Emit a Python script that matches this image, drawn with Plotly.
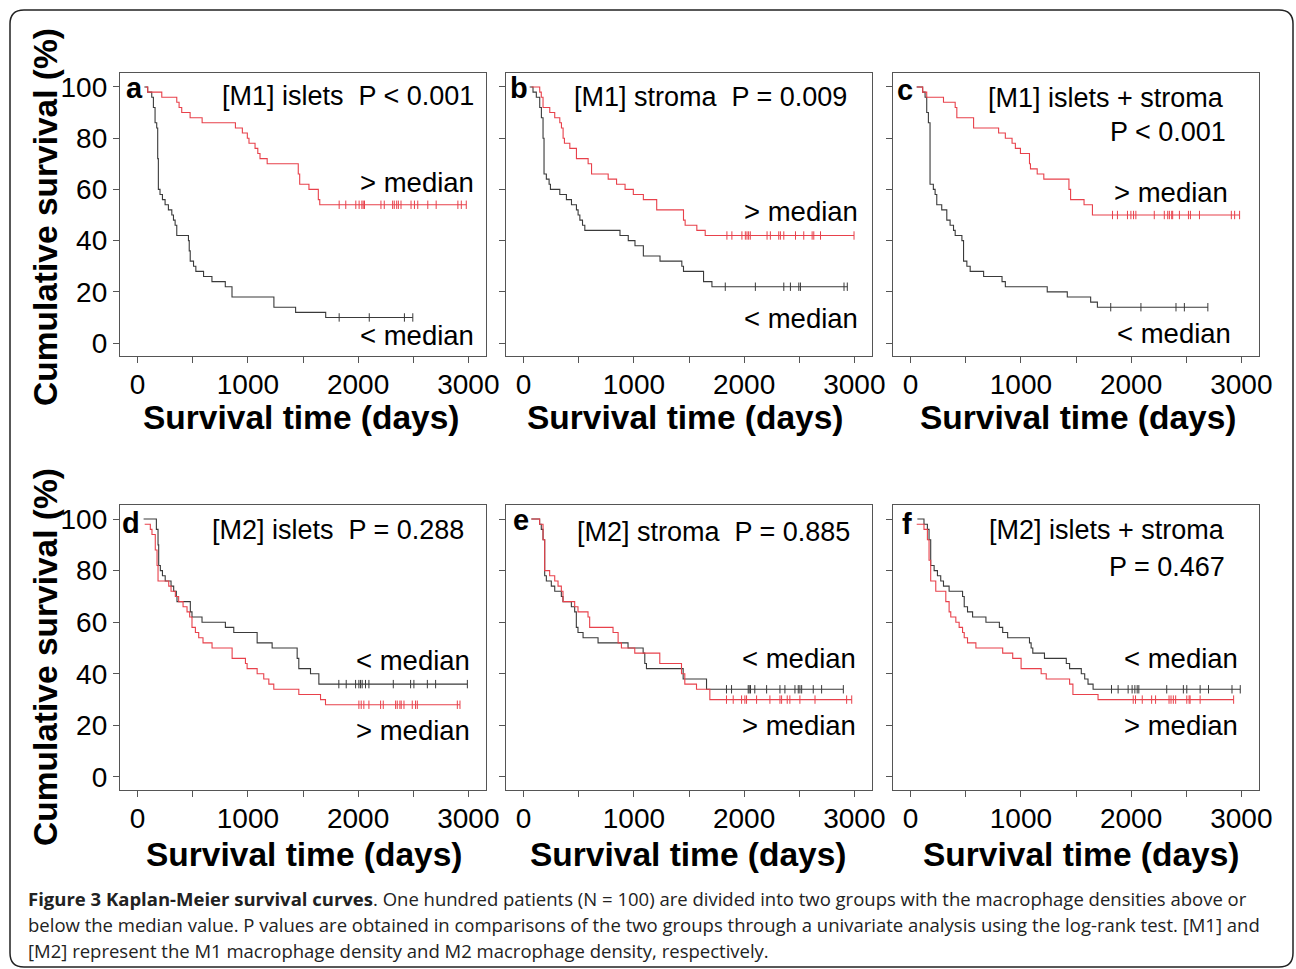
import numpy as np
import plotly.graph_objects as go

# ---------------- data (days, cumulative survival %) ----------------
# Panel a: [M1] islets
a_hi_t = [73, 91, 219, 355, 376, 400, 476, 585, 887, 950, 995, 1010, 1065, 1090, 1110, 1175, 1457, 1470, 1554, 1639, 1652]
a_hi_s = [100, 98, 96, 94, 92, 90, 88, 86, 84, 82, 80, 78, 76, 74, 72, 70, 66, 62, 60, 56, 54]
a_hi_cens = [1828, 1888, 1979, 2009, 2034, 2046, 2058, 2207, 2237, 2313, 2328, 2350, 2365, 2389, 2480, 2511, 2541, 2632, 2708, 2905, 2936, 2981]
a_lo_t = [61, 91, 128, 143, 158, 173, 182, 188, 203, 225, 249, 279, 310, 325, 340, 355, 461, 468, 477, 507, 528, 598, 674, 795, 856, 1236, 1433, 1706]
a_lo_s = [100, 98, 96, 92, 86, 84, 72, 60, 58, 56, 54, 52, 50, 48, 46, 42, 40, 36, 32, 30, 28, 26, 24, 22, 18, 14, 12, 10]
a_lo_cens = [1828, 2101, 2420, 2496]

# Panel b: [M1] stroma
b_hi_t = [70, 146, 160, 176, 237, 282, 328, 343, 358, 370, 419, 479, 585, 616, 767, 843, 920, 995, 1086, 1207, 1450, 1465, 1571, 1647]
b_hi_s = [100, 98, 96, 92, 90, 88, 86, 84, 80, 78, 76, 72, 70, 66, 64, 62, 60, 58, 56, 52, 48, 46, 44, 42]
b_hi_cens = [1844, 1889, 1980, 2011, 2026, 2041, 2056, 2208, 2238, 2314, 2329, 2360, 2466, 2541, 2617, 2632, 2693, 2997]
b_lo_t = [55, 85, 115, 146, 161, 176, 185, 206, 231, 243, 328, 388, 434, 479, 494, 510, 534, 555, 874, 949, 1010, 1086, 1237, 1435, 1450, 1632, 1708]
b_lo_s = [100, 98, 96, 92, 88, 80, 66, 64, 62, 60, 58, 56, 54, 52, 50, 48, 46, 44, 42, 40, 38, 34, 32, 30, 28, 24, 22]
b_lo_cens = [1829, 2102, 2360, 2420, 2496, 2511, 2906, 2936]

# Panel c: [M1] islets + stroma
c_hi_t = [55, 109, 146, 298, 404, 419, 571, 798, 859, 920, 950, 996, 1078, 1087, 1148, 1208, 1436, 1451, 1573, 1649]
c_hi_s = [100, 98, 96, 94, 92, 88, 84, 82, 80, 78, 76, 74, 70, 68, 66, 64, 60, 56, 54, 50]
c_hi_cens = [1831, 1876, 1967, 1998, 2022, 2043, 2210, 2301, 2332, 2347, 2368, 2377, 2438, 2520, 2538, 2620, 2909, 2939, 2984]
c_lo_t = [55, 109, 131, 146, 161, 176, 206, 222, 237, 282, 328, 358, 389, 404, 465, 480, 510, 540, 662, 829, 859, 1239, 1421, 1633, 1694]
c_lo_s = [100, 98, 96, 90, 86, 62, 60, 58, 54, 52, 48, 46, 44, 42, 40, 32, 30, 28, 26, 24, 22, 20, 18, 16, 14]
c_lo_cens = [1815, 2089, 2407, 2483, 2696]

# Panel d: [M2] islets
d_hi_t = [64, 115, 130, 160, 176, 185, 282, 303, 342, 372, 412, 448, 472, 493, 524, 554, 593, 675, 857, 978, 993, 1084, 1144, 1190, 1235, 1462, 1659, 1704]
d_hi_s = [98, 96, 94, 88, 82, 76, 74, 72, 70, 68, 66, 64, 62, 58, 56, 54, 52, 50, 46, 44, 42, 40, 38, 36, 34, 32, 30, 28]
d_hi_cens = [2007, 2028, 2052, 2098, 2204, 2228, 2340, 2355, 2379, 2391, 2416, 2491, 2521, 2537, 2900, 2924]
d_lo_t = [54, 170, 185, 191, 206, 225, 250, 303, 327, 351, 357, 478, 493, 584, 796, 872, 1084, 1220, 1447, 1462, 1568, 1644]
d_lo_s = [100, 96, 90, 82, 80, 78, 76, 74, 72, 70, 68, 64, 62, 60, 58, 56, 52, 50, 46, 42, 40, 36]
d_lo_cens = [1825, 1892, 1977, 2007, 2022, 2037, 2067, 2098, 2319, 2476, 2506, 2628, 2703, 2991]

# Panel e: [M2] stroma
e_hi_t = [70, 145, 176, 191, 236, 282, 312, 342, 357, 463, 493, 584, 599, 811, 857, 887, 1008, 1235, 1432, 1462, 1568, 1689]
e_hi_s = [100, 98, 92, 80, 78, 76, 74, 72, 68, 66, 64, 62, 58, 56, 52, 50, 48, 44, 40, 36, 34, 30]
e_hi_cens = [1840, 1901, 1977, 2007, 2022, 2113, 2234, 2325, 2340, 2391, 2415, 2506, 2643, 2930, 2976]
e_lo_t = [70, 145, 160, 176, 191, 206, 251, 282, 342, 357, 433, 463, 478, 493, 539, 675, 947, 1084, 1099, 1114, 1447, 1659]
e_lo_s = [100, 98, 96, 92, 78, 76, 74, 72, 70, 68, 66, 64, 58, 56, 54, 52, 50, 48, 44, 42, 38, 34]
e_lo_cens = [1840, 1886, 2037, 2046, 2058, 2097, 2204, 2325, 2370, 2461, 2491, 2506, 2522, 2627, 2703, 2900]

# Panel f: [M2] islets + stroma
f_hi_t = [55, 121, 152, 167, 182, 228, 319, 349, 364, 410, 440, 471, 486, 516, 592, 835, 926, 1002, 1184, 1230, 1442, 1472, 1700]
f_hi_s = [98, 96, 92, 84, 76, 72, 68, 64, 62, 60, 58, 56, 54, 52, 50, 48, 46, 42, 40, 38, 36, 32, 30]
f_hi_cens = [2019, 2040, 2101, 2186, 2222, 2344, 2362, 2383, 2404, 2505, 2526, 2535, 2626, 2930]
f_lo_t = [61, 121, 152, 167, 182, 213, 243, 273, 298, 349, 471, 486, 516, 562, 683, 805, 835, 880, 1078, 1093, 1108, 1214, 1412, 1442, 1548, 1579, 1609, 1655]
f_lo_s = [100, 98, 96, 92, 82, 80, 78, 76, 74, 72, 70, 66, 64, 62, 60, 58, 56, 54, 52, 50, 48, 46, 44, 42, 40, 38, 36, 34]
f_lo_cens = [1822, 1882, 1973, 2009, 2034, 2055, 2070, 2323, 2474, 2505, 2626, 2702, 2915, 2990]

panel_letters = ["a", "b", "c", "d", "e", "f"]
panel_titles = [["[M1] islets \u00a0P < 0.001"], ["[M1] stroma \u00a0P = 0.009"], ["[M1] islets + stroma", "P < 0.001"],
                ["[M2] islets \u00a0P = 0.288"], ["[M2] stroma \u00a0P = 0.885"], ["[M2] islets + stroma", "P = 0.467"]]
x_tick_vals = [0, 500, 1000, 1500, 2000, 2500, 3000]
x_tick_text = ["0", "", "1000", "", "2000", "", "3000"]
y_tick_vals = [0, 20, 40, 60, 80, 100]
y_tick_text = ["0", "20", "40", "60", "80", "100"]
x_title = "Survival time (days)"
y_title = "Cumulative survival (%)"
caption_lines = [
    "<b>Figure 3 Kaplan-Meier survival curves</b>. One hundred patients (N = 100) are divided into two groups with the macrophage densities above or",
    "below the median value. P values are obtained in comparisons of the two groups through a univariate analysis using the log-rank test. [M1] and",
    "[M2] represent the M1 macrophage density and M2 macrophage density, respectively.",
]

panels = [
    (a_hi_t, a_hi_s, a_hi_cens, a_lo_t, a_lo_s, a_lo_cens),
    (b_hi_t, b_hi_s, b_hi_cens, b_lo_t, b_lo_s, b_lo_cens),
    (c_hi_t, c_hi_s, c_hi_cens, c_lo_t, c_lo_s, c_lo_cens),
    (d_hi_t, d_hi_s, d_hi_cens, d_lo_t, d_lo_s, d_lo_cens),
    (e_hi_t, e_hi_s, e_hi_cens, e_lo_t, e_lo_s, e_lo_cens),
    (f_hi_t, f_hi_s, f_hi_cens, f_lo_t, f_lo_s, f_lo_cens),
]

# ---------------- layout helpers (pixel -> paper) ----------------
W, H = 1296, 969
def PX(x): return x / W
def PY(y): return 1 - y / H

col_px = [(120, 486), (506, 872), (893, 1259)]
row_px = [(73, 356), (505, 790)]

TXT = "Liberation Sans, Arial, sans-serif"
BOLD = "Liberation Sans, Arial, sans-serif"
RED = "#e8414b"
BLACK = "#3a3a3a"

fig = go.Figure()
annotations = []

def km_xy(t, s, cens):
    xs = list(t)
    ys = list(s)
    if cens:
        xs.append(max(cens))
        ys.append(s[-1])
    return xs, ys

def surv_at(t, s, times):
    idx = np.searchsorted(np.array(t), np.array(times), side="right") - 1
    return [s[i] for i in idx]

for k, (hi_t, hi_s, hi_c, lo_t, lo_s, lo_c) in enumerate(panels):
    r, c = divmod(k, 3)
    n = k + 1
    xa = "x" if n == 1 else f"x{n}"
    ya = "y" if n == 1 else f"y{n}"
    for t, s, cens, col in [(lo_t, lo_s, lo_c, BLACK), (hi_t, hi_s, hi_c, RED)]:
        xs, ys = km_xy(t, s, cens)
        fig.add_trace(go.Scatter(x=xs, y=ys, mode="lines", line=dict(color=col, width=1.1, shape="hv"),
                                 xaxis=xa, yaxis=ya, showlegend=False, hoverinfo="skip"))
        fig.add_trace(go.Scatter(x=cens, y=surv_at(t, s, cens), mode="markers",
                                 marker=dict(symbol="line-ns", size=6, line=dict(color=col, width=1)),
                                 xaxis=xa, yaxis=ya, showlegend=False, hoverinfo="skip"))
    x0, x1 = col_px[c]
    y0, y1 = row_px[r]
    axis_common = dict(showline=True, mirror=True, linecolor="#555", linewidth=1.3, ticks="outside",
                       ticklen=6, tickcolor="#555", tickwidth=1, showgrid=False, zeroline=False,
                       automargin=False)
    fig.layout[("xaxis" if n == 1 else f"xaxis{n}")] = dict(
        domain=[PX(x0), PX(x1)], range=[-160, 3160], anchor=ya, tickvals=x_tick_vals, ticktext=x_tick_text,
        tickfont=dict(family=TXT, size=28, color="black"), ticklabelstandoff=-3, **axis_common)
    fig.layout[("yaxis" if n == 1 else f"yaxis{n}")] = dict(
        domain=[PY(y1), PY(y0)], range=[-5.05, 105.45], anchor=xa, tickvals=y_tick_vals,
        ticktext=y_tick_text, showticklabels=(c == 0),
        tickfont=dict(family=TXT, size=28, color="black"), **axis_common)

# Panel text (positions in pixels)
letter_pos = [(134, 88), (519, 88), (905, 90), (131, 523), (521, 520), (907, 524)]
title_pos = [[(476, 96)], [(849, 97)], [(1226, 98), (1228, 132)],
             [(466, 530)], [(852, 532)], [(1227, 530), (1227, 567)]]
upper_lbl = [("> median", 476, 182), ("> median", 860, 212), ("> median", 1230, 192),
             ("< median", 472, 660), ("< median", 858, 658), ("< median", 1240, 658)]
lower_lbl = [("< median", 476, 335), ("< median", 860, 318), ("< median", 1233, 333),
             ("> median", 472, 730), ("> median", 858, 725), ("> median", 1240, 725)]

for k in range(6):
    lx, ly = letter_pos[k]
    annotations.append(dict(text=f"<b>{panel_letters[k]}</b>", x=PX(lx), y=PY(ly), xref="paper", yref="paper",
                            showarrow=False, font=dict(family=BOLD, size=29, color="black"),
                            xanchor="center", yanchor="middle"))
    for line, (tx, ty) in zip(panel_titles[k], title_pos[k]):
        annotations.append(dict(text=line, x=PX(tx), y=PY(ty), xref="paper", yref="paper", showarrow=False,
                                font=dict(family=TXT, size=27, color="black"), xanchor="right", yanchor="middle"))
    for txt, tx, ty in (upper_lbl[k], lower_lbl[k]):
        annotations.append(dict(text=txt, x=PX(tx), y=PY(ty), xref="paper", yref="paper", showarrow=False,
                                font=dict(family=TXT, size=27.5, color="black"), xanchor="right", yanchor="middle"))

# Axis titles
for cx, cy in [(301, 417), (685, 417), (1078, 417), (304, 854), (688, 854), (1081, 854)]:
    annotations.append(dict(text=f"<b>{x_title}</b>", x=PX(cx), y=PY(cy), xref="paper", yref="paper",
                            showarrow=False, font=dict(family=BOLD, size=33.5, color="black"),
                            xanchor="center", yanchor="middle"))
for cy in [217, 657]:
    annotations.append(dict(text=f"<b>{y_title}</b>", x=PX(45), y=PY(cy), xref="paper", yref="paper",
                            showarrow=False, textangle=-90, font=dict(family=BOLD, size=33.5, color="black"),
                            xanchor="center", yanchor="middle"))

# Caption
for line, cy in zip(caption_lines, [898, 924, 950]):
    annotations.append(dict(text=line, x=PX(26), y=PY(cy), xref="paper", yref="paper", showarrow=False,
                            font=dict(family="Open Sans, sans-serif", size=18.5, color="#222"),
                            xanchor="left", yanchor="middle", align="left"))

# Rounded frame
L, T, R, B, rad = 10, 10, 1293, 967, 14
path = (f"M {PX(L+rad)} {PY(T)} L {PX(R-rad)} {PY(T)} Q {PX(R)} {PY(T)} {PX(R)} {PY(T+rad)} "
        f"L {PX(R)} {PY(B-rad)} Q {PX(R)} {PY(B)} {PX(R-rad)} {PY(B)} "
        f"L {PX(L+rad)} {PY(B)} Q {PX(L)} {PY(B)} {PX(L)} {PY(B-rad)} "
        f"L {PX(L)} {PY(T+rad)} Q {PX(L)} {PY(T)} {PX(L+rad)} {PY(T)} Z")

fig.update_layout(
    width=W, height=H, autosize=False, margin=dict(l=0, r=0, t=0, b=0, pad=0, autoexpand=False),
    paper_bgcolor="white", plot_bgcolor="white",
    annotations=annotations,
    shapes=[dict(type="path", path=path, xref="paper", yref="paper", line=dict(color="#222", width=1.5))],
)

fig.write_html("out.html", config={"responsive": False, "displayModeBar": False},
               post_script="document.body.style.margin='0px';document.body.style.overflow='hidden';")
